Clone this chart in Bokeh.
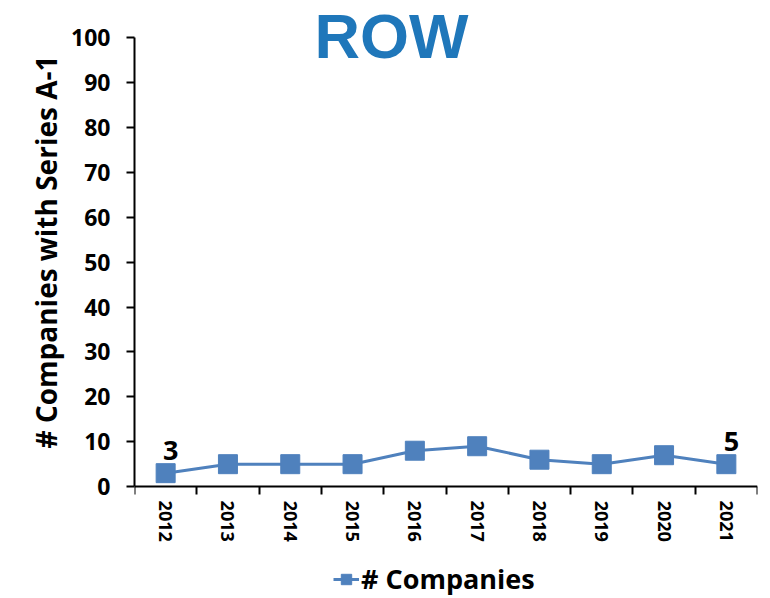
from bokeh.plotting import figure
from bokeh.models import FixedTicker, Range1d, Legend, LegendItem, Title
from bokeh.core.properties import value
from bokeh.embed import file_html
from bokeh.resources import INLINE

years = ["2012", "2013", "2014", "2015", "2016", "2017", "2018", "2019", "2020", "2021"]
companies = [3, 5, 5, 5, 8, 9, 6, 5, 7, 5]
y_ticks = [0, 10, 20, 30, 40, 50, 60, 70, 80, 90, 100]
labelled = [0, 9]
title_text = "ROW"
y_label = "# Companies with Series A-1"
series_name = "# Companies"

BLUE = "#4F81BD"
FONT = "Open Sans"

xs = list(range(len(years)))

p = figure(frame_width=623, frame_height=597, output_backend="svg", toolbar_location=None,
           x_range=Range1d(-0.5, len(years) - 0.5), y_range=Range1d(-24.7, 108.3),
           min_border_left=134, min_border_right=13, min_border_top=0, min_border_bottom=0)
p.outline_line_color = None
p.grid.visible = False
p.background_fill_color = "white"
p.border_fill_color = "white"

# X axis inside frame at y=0
p.xaxis.fixed_location = 0
p.xaxis.ticker = FixedTicker(ticks=xs, minor_ticks=[i - 0.5 for i in range(len(years) + 1)])
p.xaxis.major_label_overrides = {i: y for i, y in enumerate(years)}
p.xaxis.major_label_orientation = "vertical"
p.xaxis.major_tick_line_color = None
p.xaxis.minor_tick_in = 0
p.xaxis.minor_tick_out = 8
p.xaxis.minor_tick_line_width = 2
p.xaxis.minor_tick_line_color = "black"
p.xaxis.axis_line_width = 2
p.xaxis.axis_line_color = "black"
p.xaxis.major_label_text_font = FONT
p.xaxis.major_label_text_font_style = "bold"
p.xaxis.major_label_text_font_size = "18px"
p.xaxis.major_label_text_color = "black"
p.xaxis.major_label_standoff = 6

p.yaxis.bounds = (0, 100)
p.yaxis.ticker = FixedTicker(ticks=y_ticks, minor_ticks=[])
p.yaxis.major_tick_in = 0
p.yaxis.major_tick_out = 8
p.yaxis.major_tick_line_width = 2
p.yaxis.major_tick_line_color = "black"
p.yaxis.minor_tick_line_color = None
p.yaxis.axis_line_width = 2
p.yaxis.axis_line_color = "black"
p.yaxis.major_label_text_font = FONT
p.yaxis.major_label_text_font_style = "bold"
p.yaxis.major_label_text_font_size = "23px"
p.yaxis.major_label_text_color = "black"
p.yaxis.major_label_standoff = 16

# Y axis title, placed along the 0-100 span
p.add_layout(Title(text=y_label, align="right", offset=55, standoff=8,
                   text_font=FONT, text_font_style="bold", text_font_size="28px",
                   text_color="black"), "left")

# Series
ln = p.line(xs, companies, line_color=BLUE, line_width=3)
sq = p.scatter(xs, companies, marker="square", size=19, fill_color=BLUE, line_color=BLUE)

# Data labels
p.text([xs[i] for i in labelled], [companies[i] for i in labelled],
       text=[str(companies[i]) for i in labelled], text_align="center",
       text_baseline="bottom", x_offset=5, y_offset=-13, text_font=value(FONT),
       text_font_style="bold", text_font_size="27px", text_color="black")

# Title
p.text([3.625], [100.4], text=[title_text], text_align="center", text_baseline="alphabetic",
       text_font=value("Liberation Sans"), text_font_style="bold",
       text_font_size="63px", text_color="#1F77BA")

legend = Legend(items=[LegendItem(label=series_name, renderers=[ln, sq])], location=(199, 0),
                orientation="horizontal", border_line_color=None, background_fill_alpha=0,
                label_text_font=FONT, label_text_font_style="bold", label_text_font_size="27px",
                label_text_color="black", glyph_width=26, glyph_height=26, label_standoff=2,
                padding=4, margin=0)
p.add_layout(legend, "center")

open("out.html", "w").write(file_html(p, INLINE))
